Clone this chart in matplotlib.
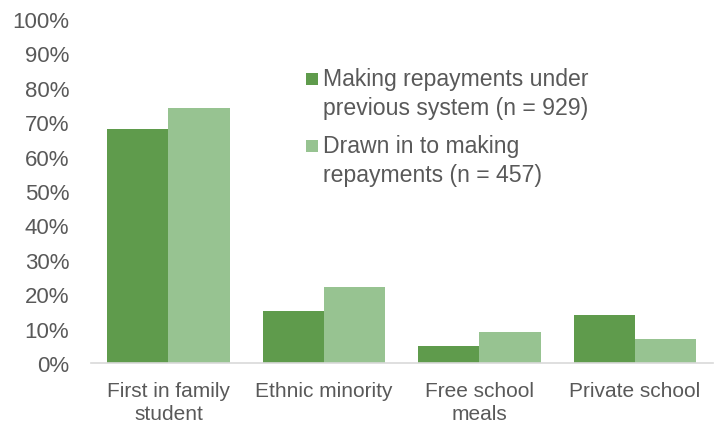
import matplotlib
matplotlib.use("Agg")
import matplotlib.pyplot as plt
from matplotlib.patches import Rectangle
import numpy as np

categories = ["First in family\nstudent", "Ethnic minority", "Free school\nmeals", "Private school"]
series_names = ["Making repayments under\nprevious system (n = 929)",
                "Drawn in to making\nrepayments (n = 457)"]
previous_system = [68, 15, 5, 14]
drawn_in = [74, 22, 9, 7]
yticks = [0, 10, 20, 30, 40, 50, 60, 70, 80, 90, 100]

plt.rcParams['font.family'] = ['Liberation Sans', 'DejaVu Sans']
text_color = "#595959"
dark = "#5f9b4c"
light = "#97c391"
colors = [dark, light]

W, H = 718, 427
fig = plt.figure(figsize=(W/100, H/100), dpi=100)
ax = fig.add_axes([90.7/W, 63/H, (712.7-90.7)/W, 344/H])

x = np.arange(len(categories))
w = 0.395
ax.bar(x - w/2, previous_system, w, color=dark)
ax.bar(x + w/2, drawn_in, w, color=light)

ax.set_xlim(-0.5, len(categories) - 0.5)
ax.set_ylim(0, 100)
ax.set_yticks(yticks)
ax.set_yticklabels([f"{v}%" for v in yticks], fontsize=16, color=text_color)
ax.set_xticks(x)
ax.set_xticklabels(categories, fontsize=15, color=text_color, linespacing=1.27)
ax.tick_params(axis='both', length=0)
ax.tick_params(axis='y', pad=15.5)
ax.tick_params(axis='x', pad=13)
for s in ["top", "right", "left"]:
    ax.spines[s].set_visible(False)
ax.spines["bottom"].set_color("#d9d9d9")
ax.spines["bottom"].set_linewidth(1.2)

# manual legend (marker aligned with first line of each entry)
first_line_centers = [80, 147]
for name, col, yc in zip(series_names, colors, first_line_centers):
    sq = 12
    fig.add_artist(Rectangle((306/W, (H - yc - sq/2)/H), sq/W, sq/H,
                             transform=fig.transFigure, color=col, lw=0))
    fig.text(323/W, (H - yc + 12)/H, name, fontsize=16.6, color=text_color,
             ha="left", va="top", linespacing=1.36)

fig.savefig("out.png", dpi=100)
